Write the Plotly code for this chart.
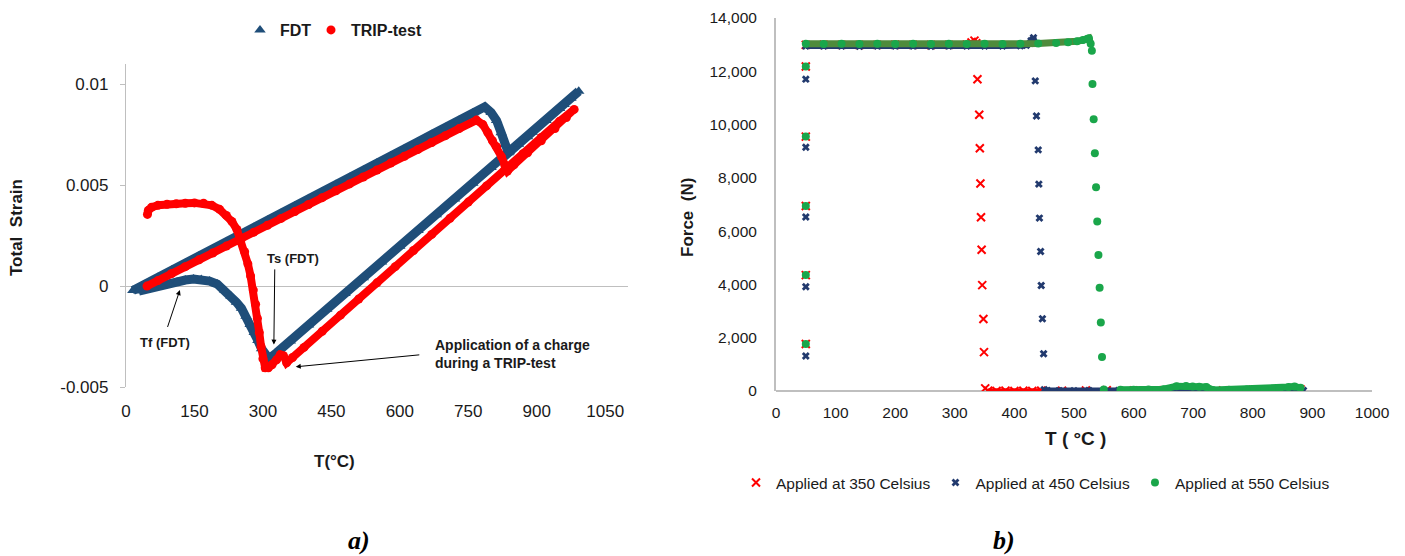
import plotly.graph_objects as go

# ---------------- a) dilatometry: total strain vs temperature ----------------
# strain values are in units of 1e-3 and scaled when plotted
fdt_T = [15, 40, 70, 100, 130, 160, 190, 220, 250, 280, 310, 340, 370, 400, 430, 460,
         490, 520, 550, 580, 610, 640, 670, 700, 730, 760, 786,
         800, 812, 822, 830, 838,
         860, 890, 920, 950, 975, 992,
         960, 920, 880, 840, 800, 760, 720, 680, 640, 600, 560, 520, 480, 440, 400,
         360, 330, 313,
         305, 297, 289, 281, 272, 263, 253, 242, 230, 216, 200, 183, 165, 148, 130,
         112, 95, 78, 60, 42, 28]
fdt_strain = [-0.22, 0.07, 0.43, 0.78, 1.13, 1.49, 1.84, 2.20, 2.55, 2.90, 3.26, 3.61,
              3.97, 4.32, 4.67, 5.03, 5.38, 5.74, 6.09, 6.44, 6.80, 7.15, 7.51, 7.86,
              8.21, 8.57, 8.88,
              8.6, 8.2, 7.6, 7.0, 6.6,
              7.03, 7.62, 8.2, 8.8, 9.3, 9.65,
              9.0, 8.2, 7.4, 6.65, 5.87, 5.09, 4.31, 3.53, 2.75, 1.97, 1.19, 0.41, -0.37,
              -1.15, -1.93, -2.72, -3.3, -3.6,
              -3.4, -3.1, -2.7, -2.3, -1.9, -1.5, -1.1, -0.8, -0.5, -0.2, 0.1, 0.25,
              0.33, 0.35, 0.3, 0.2, 0.1, 0.0, -0.1, -0.2, -0.25]

trip_T = [46, 70, 100, 130, 160, 190, 220, 250, 280, 310, 340, 370, 400, 430, 460, 490,
          520, 550, 580, 610, 640, 670, 700, 730, 768,
          782, 793, 803, 812, 823, 830, 836,
          850, 880, 910, 940, 965, 982,
          950, 910, 870, 830, 790, 750, 710, 670, 630, 590, 550, 510, 470, 430, 390,
          365, 352,
          345, 338, 330, 320, 312, 305,
          300, 296, 292, 288, 284, 279, 273, 267, 260, 252, 243, 232, 220, 205, 188,
          170, 150, 130, 110, 90, 70, 56, 49, 47]
trip_strain = [0.0, 0.27, 0.62, 0.96, 1.30, 1.64, 1.98, 2.33, 2.67, 3.01, 3.35, 3.69,
               4.04, 4.38, 4.72, 5.06, 5.40, 5.75, 6.09, 6.43, 6.77, 7.11, 7.45, 7.80,
               8.22,
               8.0, 7.6, 7.2, 6.9, 6.4, 6.0, 5.7,
               6.0, 6.6, 7.2, 7.8, 8.35, 8.75,
               8.16, 7.36, 6.56, 5.76, 4.96, 4.16, 3.36, 2.56, 1.76, 0.96, 0.16, -0.64,
               -1.44, -2.24, -3.04, -3.54, -3.8,
               -3.45, -3.4, -3.65, -3.9, -4.05, -4.05,
               -3.6, -3.0, -2.3, -1.6, -0.9, -0.2, 0.5, 1.1, 1.7, 2.3, 2.8, 3.2, 3.5,
               3.8, 4.0, 4.1, 4.12, 4.1, 4.08, 4.05, 4.0, 3.9, 3.75, 3.55]

strain_ticks = [0.01, 0.005, 0, -0.005]
strain_ticktext = ["0.01", "0.005", "0", "-0.005"]
temp_ticks_a = [0, 150, 300, 450, 600, 750, 900, 1050]

# ---------------- b) force vs temperature ----------------
# load applied at 350 °C
f350_start_T = [50, 50, 50, 50, 50]
f350_start_F = [1762, 4350, 6942, 9548, 12180]
f350_hold_T = [50, 80, 110, 140, 170, 200, 230, 260, 290, 320, 328, 333, 336]
f350_hold_F = [12990, 12995, 12990, 12985, 12990, 12995, 12990, 12985, 12990, 13000,
               13080, 13150, 13050]
f350_drop_T = [338, 341, 342, 343, 344, 345, 346, 348, 349, 351]
f350_drop_F = [11700, 10370, 9110, 7790, 6520, 5300, 3975, 2700, 1460, 100]
f350_free_T = [356, 370, 385, 400, 415, 430, 445, 480, 520, 555, 600, 650, 700, 750,
               800, 840, 880]
f350_free_F = [10, 5, 15, 0, 10, 5, 15, 10, 20, 30, 20, 25, 30, 20, 40, 50, 60]

# load applied at 450 °C
f450_start_T = [50, 50, 50, 50, 50]
f450_start_F = [1312, 3912, 6530, 9150, 11705]
f450_hold_T = [50, 80, 110, 140, 170, 200, 230, 260, 290, 320, 350, 380, 410, 420,
               428, 432, 434]
f450_hold_F = [12950, 12945, 12950, 12940, 12950, 12945, 12950, 12940, 12950, 12945,
               12950, 12945, 12960, 12980, 13150, 13260, 13050]
f450_drop_T = [435, 437, 440, 441, 442, 444, 445, 447, 449, 450]
f450_drop_F = [11640, 10320, 9050, 7765, 6490, 5235, 3960, 2710, 1400, 50]
f450_free_T = [455, 475, 500, 525, 550, 575, 600, 640, 680, 720, 760, 800, 840, 885]
f450_free_F = [20, 15, 10, 20, 15, 20, 25, 20, 30, 25, 30, 35, 40, 20]

# load applied at 550 °C
f550_start_T = [50, 50, 50, 50, 50]
f550_start_F = [1762, 4350, 6942, 9548, 12180]
f550_hold_T = [50, 80, 110, 140, 170, 200, 230, 260, 290, 320, 350, 380, 410, 440,
               470, 490, 505, 515, 522, 525, 528]
f550_hold_F = [13030, 13025, 13030, 13020, 13030, 13025, 13030, 13020, 13030, 13025,
               13030, 13025, 13030, 13040, 13060, 13090, 13130, 13170, 13210, 13240,
               13030]
f550_drop_T = [530, 531, 533, 535, 537, 539, 541, 543, 545, 547, 550]
f550_drop_F = [12770, 11520, 10200, 8925, 7650, 6360, 5100, 3875, 2575, 1275, 60]
f550_free_T = [578, 600, 625, 650, 672, 688, 699, 710, 722, 733, 760, 790, 820, 845,
               860, 870, 880]
f550_free_F = [50, 45, 60, 70, 180, 190, 170, 160, 150, 40, 50, 60, 70, 80, 150,
               170, 120]

force_range = [0, 14000]
temp_range_b = [0, 1000]

# ---------------- styling ----------------
W, H = 1405, 556
FONT = "Liberation Sans, Arial, sans-serif"
SERIF = "Liberation Serif, Times New Roman, serif"
GRID = "#bfbfbf"
BLUE_A = "#1f4e79"
RED = "#ff0000"
NAVY = "#223a6e"
GREEN = "#1aa64a"
OLIVE = "#4f8b3c"
TXT = "#1a1a1a"


def fx(p):
    return p / W


def fy(p):
    return 1 - p / H


def scaled(vals):
    return [v / 1000.0 for v in vals]


fig = go.Figure()

# a) bands (lines) drawn under the marker traces
fig.add_trace(go.Scatter(x=fdt_T, y=scaled(fdt_strain), mode="lines",
                         line=dict(color=BLUE_A, width=9), showlegend=False,
                         xaxis="x", yaxis="y", hoverinfo="skip"))
fig.add_trace(go.Scatter(x=fdt_T, y=scaled(fdt_strain), mode="markers", name="FDT",
                         marker=dict(symbol="triangle-up", size=10, color=BLUE_A),
                         xaxis="x", yaxis="y", legend="legend"))
fig.add_trace(go.Scatter(x=trip_T, y=scaled(trip_strain), mode="lines",
                         line=dict(color=RED, width=8), showlegend=False,
                         xaxis="x", yaxis="y", hoverinfo="skip"))
fig.add_trace(go.Scatter(x=trip_T, y=scaled(trip_strain), mode="markers",
                         name="TRIP-test",
                         marker=dict(symbol="circle", size=9, color=RED),
                         xaxis="x", yaxis="y", legend="legend3"))

# b) force traces
series_b = [
    ("Applied at 350 Celsius", RED, RED, dict(symbol="x-thin", size=8,
                                                line=dict(color=RED, width=2)),
     f350_start_T, f350_start_F, f350_hold_T, f350_hold_F,
     f350_drop_T, f350_drop_F, f350_free_T, f350_free_F, 5),
    ("Applied at 450 Celsius", NAVY, NAVY, dict(symbol="x", size=7, color=NAVY,
                                                  line=dict(width=0)),
     f450_start_T, f450_start_F, f450_hold_T, f450_hold_F,
     f450_drop_T, f450_drop_F, f450_free_T, f450_free_F, 6),
    ("Applied at 550 Celsius", GREEN, OLIVE, dict(symbol="circle", size=8,
                                                    color=GREEN),
     f550_start_T, f550_start_F, f550_hold_T, f550_hold_F,
     f550_drop_T, f550_drop_F, f550_free_T, f550_free_F, 7),
]
for (name, col, band_col, mk, sT, sF, hT, hF, dT, dF, fT, fF, lw) in series_b:
    fig.add_trace(go.Scatter(x=hT, y=hF, mode="lines",
                             line=dict(color=band_col, width=lw), showlegend=False,
                             xaxis="x2", yaxis="y2", hoverinfo="skip"))
    fig.add_trace(go.Scatter(x=fT, y=fF, mode="lines",
                             line=dict(color=col, width=lw), showlegend=False,
                             xaxis="x2", yaxis="y2", hoverinfo="skip"))
    fig.add_trace(go.Scatter(x=sT + hT + dT + fT, y=sF + hF + dF + fF,
                             mode="markers", name=name, marker=mk,
                             xaxis="x2", yaxis="y2", legend="legend2"))

tick_font_a = dict(family=FONT, size=17, color=TXT)
tick_font_b = dict(family=FONT, size=15.5, color=TXT)
legend_font_a = dict(family=FONT, size=16, color=TXT, weight="bold")

fig.update_layout(
    width=W, height=H,
    margin=dict(l=0, r=0, t=0, b=0, autoexpand=False),
    paper_bgcolor="white", plot_bgcolor="white",
    xaxis=dict(domain=[fx(126), fx(628)], range=[0, 1100], tickvals=temp_ticks_a,
               showgrid=False, zeroline=False, showline=False, ticks="",
               tickfont=tick_font_a, ticklabelstandoff=12, anchor="y",
               automargin=False),
    yaxis=dict(domain=[fy(387), fy(64)], range=[-0.005, 0.011],
               tickvals=strain_ticks, ticktext=strain_ticktext,
               showgrid=False, zeroline=True, zerolinecolor=GRID, zerolinewidth=1.3,
               showline=True, linecolor=GRID, linewidth=1.3,
               ticks="outside", ticklen=5, tickcolor=GRID,
               tickfont=tick_font_a, ticklabelstandoff=8, anchor="x",
               automargin=False),
    xaxis2=dict(domain=[fx(776), fx(1372)], range=temp_range_b, dtick=100,
                showgrid=False, zeroline=False, showline=False, ticks="",
                tickfont=tick_font_b, ticklabelstandoff=10, anchor="y2",
                automargin=False),
    yaxis2=dict(domain=[fy(391), fy(18)], range=force_range, dtick=2000,
                tickformat=",", showgrid=False, zeroline=True, zerolinecolor=GRID,
                zerolinewidth=2, showline=True, linecolor=GRID, linewidth=2,
                ticks="", tickfont=tick_font_b, ticklabelstandoff=14, anchor="x2",
                automargin=False),
    legend=dict(orientation="h", x=fx(240), xanchor="left", y=fy(30),
                yanchor="middle", font=legend_font_a,
                bgcolor="rgba(0,0,0,0)", itemwidth=30),
    legend3=dict(orientation="h", x=fx(311), xanchor="left", y=fy(30),
                 yanchor="middle", font=legend_font_a,
                 bgcolor="rgba(0,0,0,0)", itemwidth=30),
    legend2=dict(orientation="h", x=fx(736), xanchor="left", y=fy(483),
                 yanchor="middle", font=dict(family=FONT, size=15.5, color=TXT),
                 bgcolor="rgba(0,0,0,0)", itemwidth=30),
    showlegend=True,
)


def paper_text(text, px, py, size, family=FONT, angle=0, color=TXT):
    return dict(text=text, x=fx(px), y=fy(py), xref="paper", yref="paper",
                xanchor="center", yanchor="middle", showarrow=False,
                textangle=angle, font=dict(family=family, size=size, color=color))


ann = [
    # axis titles
    paper_text("<b>T(°C)</b>", 334, 461, 17),
    paper_text("<b>Total  Strain</b>", 16, 228, 17, angle=-90),
    paper_text("<b>T ( °C )</b>", 1075, 438, 19),
    paper_text("<b>Force  (N)</b>", 687, 218, 17, angle=-90),
    # panel captions
    paper_text("<b><i>a)</i></b>", 359, 540, 26, family=SERIF, color="black"),
    paper_text("<b><i>b)</i></b>", 1004, 540, 26, family=SERIF, color="black"),
]

# callouts on panel a)
lab_font = dict(family=FONT, size=13, color=TXT)
ann.append(dict(text="<b>Ts (FDT)</b>", x=366, y=0.00135, xref="x", yref="y",
                showarrow=False, font=lab_font))
ann.append(dict(x=324, y=-0.0029, ax=326, ay=0.0009, xref="x", yref="y",
                axref="x", ayref="y", showarrow=True, arrowhead=2, arrowsize=1,
                arrowwidth=1, arrowcolor="black", text=""))
ann.append(dict(text="<b>Tf (FDT)</b>", x=85, y=-0.0028, xref="x", yref="y",
                showarrow=False, font=lab_font))
ann.append(dict(x=118, y=-0.0002, ax=90, ay=-0.0021, xref="x", yref="y",
                axref="x", ayref="y", showarrow=True, arrowhead=2, arrowsize=1,
                arrowwidth=1, arrowcolor="black", text=""))
ann.append(dict(text="<b>Application of a charge<br>during a TRIP-test</b>",
                x=672, y=-0.00335, xref="x", yref="y", xanchor="left",
                align="left", showarrow=False,
                font=dict(family=FONT, size=14, color=TXT)))
ann.append(dict(x=372, y=-0.0040, ax=646, ay=-0.0034, xref="x", yref="y",
                axref="x", ayref="y", showarrow=True, arrowhead=2, arrowsize=1,
                arrowwidth=1, arrowcolor="black", text=""))

fig.update_layout(annotations=ann)

fig.write_html("out.html")
